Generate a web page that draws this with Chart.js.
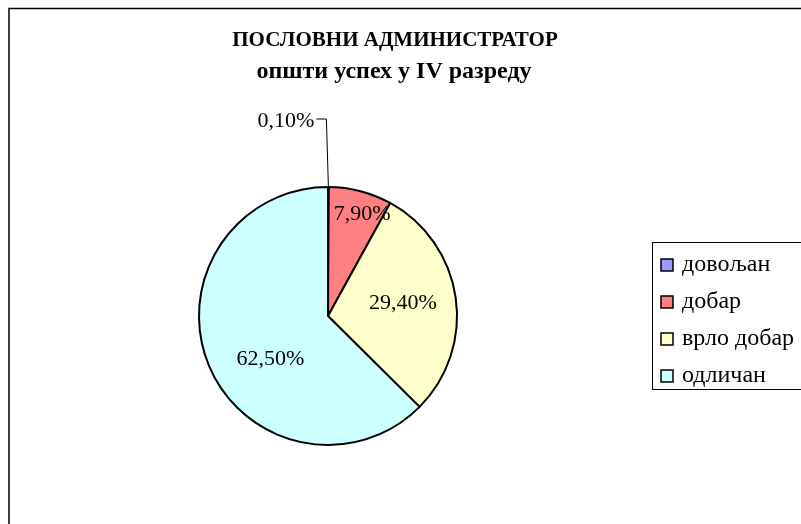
<!DOCTYPE html>
<html>
<head>
<meta charset="utf-8">
<script src="https://cdn.jsdelivr.net/npm/chart.js@4/dist/chart.umd.min.js"></script>
<style>
  body { margin: 0; background: #fff; }
  canvas { display: block; }
</style>
</head>
<body>
<canvas id="pie" width="801" height="524"></canvas>
<script>
const titleText = 'ПОСЛОВНИ АДМИНИСТРАТОР';
const subtitleText = 'општи успех у IV разреду';
const grades = ['довољан', 'добар', 'врло добар', 'одличан'];
const shares = [0.1, 7.9, 29.4, 62.5];
const sliceColors = ['#9999FF', '#FF8080', '#FFFFCC', '#CCFFFF'];

// label nudges (px) from the arc midpoint at r/2
const labelShift = [null, [18, -39], [11, -4], [2, 18]];

const fmt = v => v.toFixed(2).replace('.', ',') + '%';
const serif = '"Liberation Serif", "Times New Roman", serif';

const decor = {
    id: 'decor',
    beforeDraw(chart) {
        const ctx = chart.ctx;
        ctx.save();
        ctx.fillStyle = '#fff';
        ctx.fillRect(0, 0, chart.width, chart.height);
        // outer frame
        ctx.strokeStyle = '#000';
        ctx.lineWidth = 1.5;
        ctx.strokeRect(9, 8.5, 900, 600);
        ctx.restore();
    },
    afterDraw(chart) {
        const ctx = chart.ctx;
        const arcs = chart.getDatasetMeta(0).data;
        ctx.save();
        ctx.fillStyle = '#000';
        ctx.textAlign = 'center';
        ctx.textBaseline = 'middle';
        ctx.font = 'bold 21px ' + serif;
        ctx.fillText(titleText, 395, 41);
        ctx.font = 'bold 24px ' + serif;
        ctx.fillText(subtitleText, 394, 72);

        // slice labels
        ctx.font = '22px ' + serif;
        arcs.forEach((arc, i) => {
            const mid = (arc.startAngle + arc.endAngle) / 2;
            if (labelShift[i]) {
                const r = arc.outerRadius / 2;
                const x = arc.x + Math.cos(mid) * r + labelShift[i][0];
                const y = arc.y + Math.sin(mid) * r + labelShift[i][1];
                ctx.fillText(fmt(shares[i]), x, y);
            } else {
                // tiny slice: leader line up to an outside label
                const ex = arc.x + Math.cos(mid) * arc.outerRadius;
                const ey = arc.y + Math.sin(mid) * arc.outerRadius;
                ctx.strokeStyle = '#000';
                ctx.lineWidth = 1;
                ctx.beginPath();
                ctx.moveTo(ex, ey);
                ctx.lineTo(ex - 2, ey - 68);
                ctx.lineTo(ex - 12, ey - 68);
                ctx.stroke();
                ctx.textAlign = 'right';
                ctx.fillText(fmt(shares[i]), ex - 14, ey - 66);
                ctx.textAlign = 'center';
            }
        });

        // legend
        ctx.strokeStyle = '#000';
        ctx.lineWidth = 1;
        ctx.strokeRect(652.5, 242.5, 200, 147);
        ctx.textAlign = 'left';
        ctx.font = '24px ' + serif;
        grades.forEach((g, i) => {
            const cy = 265 + i * 37;
            ctx.fillStyle = sliceColors[i];
            ctx.fillRect(661, cy - 6, 12, 12);
            ctx.lineWidth = 1.5;
            ctx.strokeRect(661, cy - 6, 12, 12);
            ctx.fillStyle = '#000';
            ctx.fillText(g, 682, cy);
        });
        ctx.restore();
    }
};

new Chart(document.getElementById('pie'), {
    type: 'pie',
    data: {
        labels: grades,
        datasets: [{
            data: shares,
            backgroundColor: sliceColors,
            borderColor: '#000',
            borderWidth: 2,
            radius: 129
        }]
    },
    options: {
        responsive: false,
        animation: false,
        layout: { padding: { left: 70, right: 215, top: 110, bottom: 2 } },
        plugins: {
            legend: { display: false },
            title: { display: false },
            tooltip: { enabled: false }
        }
    },
    plugins: [decor]
});
</script>
</body>
</html>
